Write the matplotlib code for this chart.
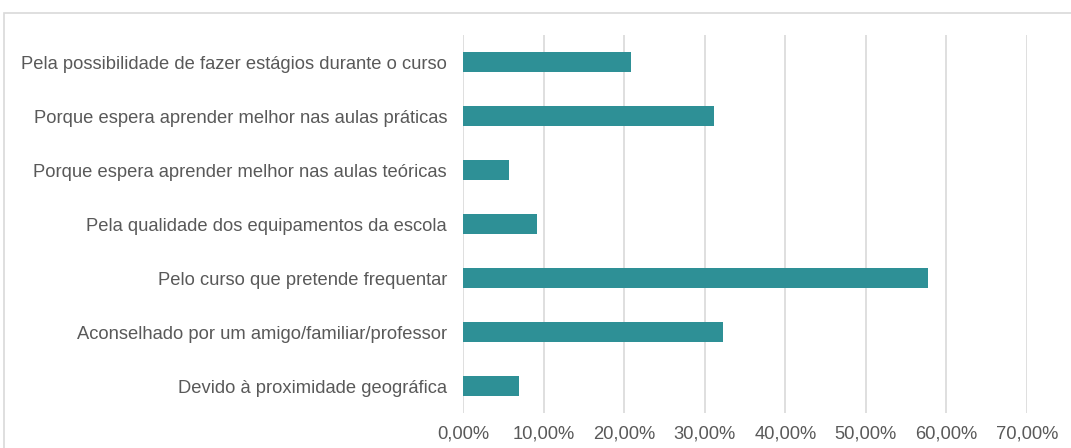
import matplotlib.pyplot as plt
from matplotlib.patches import Rectangle
from matplotlib.ticker import FuncFormatter

categories = [
    'Pela possibilidade de fazer estágios durante o curso',
    'Porque espera aprender melhor nas aulas práticas',
    'Porque espera aprender melhor nas aulas teóricas',
    'Pela qualidade dos equipamentos da escola',
    'Pelo curso que pretende frequentar',
    'Aconselhado por um amigo/familiar/professor',
    'Devido à proximidade geográfica',
]
values = [20.8, 31.1, 5.7, 9.2, 57.7, 32.3, 6.9]
xticks = [0, 10, 20, 30, 40, 50, 60, 70]

plt.rcParams['font.family'] = ['Liberation Sans', 'DejaVu Sans']

fig = plt.figure(figsize=(10.71, 4.48), dpi=100)
ax = fig.add_axes([463 / 1071, 35 / 448, (1027 - 463) / 1071, 378 / 448])

# light grey frame round the chart area
fig.patches.append(Rectangle((4 / 1071, -0.1), 1.2, (448 - 13) / 448 + 0.1,
                             transform=fig.transFigure, fill=False,
                             edgecolor='#D9D9D9', linewidth=1.2))

y = list(range(len(categories)))
ax.barh(y, values, height=0.36, color='#2E9096', zorder=3)

ax.set_ylim(len(categories) - 0.5, -0.5)
ax.set_xlim(0, 70)
ax.set_xticks(xticks)
ax.xaxis.set_major_formatter(FuncFormatter(lambda v, p: f'{v:.2f}%'.replace('.', ',')))
ax.set_yticks(y)
ax.set_yticklabels(categories)

ax.grid(axis='x', color='#D9D9D9', linewidth=1.2, zorder=0)
for s in ax.spines.values():
    s.set_visible(False)
ax.tick_params(axis='both', length=0, labelsize=13.2, labelcolor='#595959')
ax.tick_params(axis='y', pad=11.5)
ax.tick_params(axis='x', pad=9)

fig.savefig('out.png', dpi=100)
